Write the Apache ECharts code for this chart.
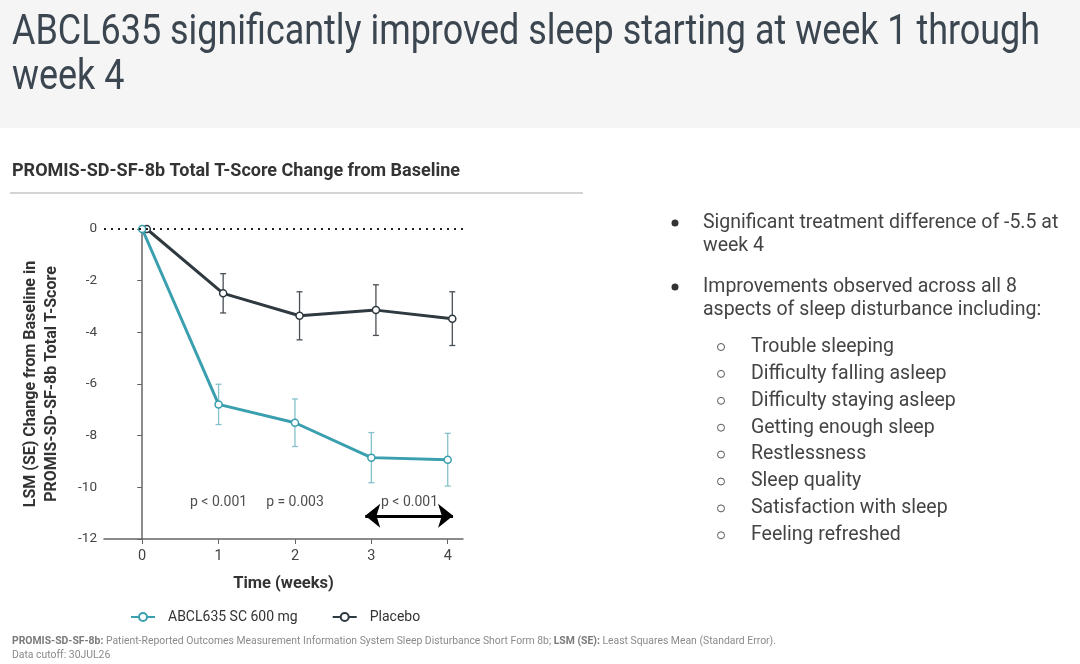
<!DOCTYPE html>
<html>
<head>
<meta charset="utf-8">
<style>
  html, body { margin: 0; padding: 0; background: #fff; }
  #main { width: 1080px; height: 664px; }
</style>
<script src="https://cdn.jsdelivr.net/npm/echarts@6/dist/echarts.min.js"></script>
</head>
<body>
<div id="main"></div>
<script>
// data
var weeks = [0, 1, 2, 3, 4];
var abclMean = [0, -6.79, -7.50, -8.85, -8.93];
var abclSE = [0, 0.78, 0.92, 0.97, 1.02];
var placeboMean = [0, -2.49, -3.36, -3.14, -3.47];
var placeboSE = [0, 0.76, 0.93, 0.98, 1.04];
var yTicks = [0, -2, -4, -6, -8, -10, -12];
var pLabels = ["p < 0.001", "p = 0.003", "p < 0.001"];
var pWeeks = [1, 2, 3.5];
var seriesNames = ["ABCL635 SC 600 mg", "Placebo"];

var titleLines = ["ABCL635 significantly improved sleep starting at week 1 through", "week 4"];
var bullets = [
  ["Significant treatment difference of -5.5 at", "week 4"],
  ["Improvements observed across all 8", "aspects of sleep disturbance including:"]
];
var subBullets = ["Trouble sleeping", "Difficulty falling asleep", "Difficulty staying asleep",
  "Getting enough sleep", "Restlessness", "Sleep quality", "Satisfaction with sleep", "Feeling refreshed"];

var teal = "#3a9fae";
var tealLight = "#86c2cb";
var dark = "#2f3940";
var placeboDodge = 0.06; // placebo points drawn slightly right of the tick

var myChart = echarts.init(document.getElementById("main"));

function pts(mean, dx) {
  return weeks.map(function (w, i) { return [w + dx, mean[i]]; });
}
function bars(mean, se, dx) {
  return weeks.map(function (w, i) { return [w + dx, mean[i] - se[i], mean[i] + se[i]]; })
    .filter(function (d, i) { return se[i] > 0; });
}
function errorBar(color) {
  return function (params, api) {
    var lo = api.coord([api.value(0), api.value(1)]);
    var hi = api.coord([api.value(0), api.value(2)]);
    var w = 3;
    var st = { stroke: color, lineWidth: 1.3 };
    return {
      type: "group",
      children: [
        { type: "line", shape: { x1: lo[0], y1: lo[1], x2: hi[0], y2: hi[1] }, style: st },
        { type: "line", shape: { x1: lo[0] - w, y1: lo[1], x2: lo[0] + w, y2: lo[1] }, style: st },
        { type: "line", shape: { x1: hi[0] - w, y1: hi[1], x2: hi[0] + w, y2: hi[1] }, style: st }
      ]
    };
  };
}

// condensed title: squeeze Roboto to the width of the original headline
var titleFont = "42px Roboto, sans-serif";
var ctx = document.createElement("canvas").getContext("2d");
ctx.font = titleFont;
var titleScale = 1028 / ctx.measureText(titleLines[0]).width;

var graphics = [
  { type: "rect", shape: { x: 0, y: 0, width: 1080, height: 128 }, style: { fill: "#f5f5f5" }, z: -1 }
];
titleLines.forEach(function (t, i) {
  graphics.push({ type: "text", x: 12, y: 33 + i * 45, scaleX: titleScale,
    style: { x: 0, y: 0, text: t, font: titleFont, fill: "#3b4650", textVerticalAlign: "middle" } });
});
graphics.push(
  { type: "text", style: { x: 12, y: 171, text: "PROMIS-SD-SF-8b Total T-Score Change from Baseline",
      font: "bold 18px Roboto, sans-serif", fill: "#333", textVerticalAlign: "middle" } },
  { type: "line", shape: { x1: 10, y1: 193, x2: 583, y2: 193 }, style: { stroke: "#aaa", lineWidth: 1.2 } },
  { type: "text", style: { x: 12, y: 641, text: "{b|PROMIS-SD-SF-8b:} Patient-Reported Outcomes Measurement Information System Sleep Disturbance Short Form 8b; {b|LSM (SE):} Least Squares Mean (Standard Error).",
      font: "10.4px Roboto, sans-serif", fill: "#8a8a8a", textVerticalAlign: "middle",
      rich: { b: { fontWeight: "bold", fontSize: 10.4, fontFamily: "Roboto", fill: "#7a7a7a" } } } },
  { type: "text", style: { x: 12, y: 655, text: "Data cutoff: 30JUL26",
      font: "10.4px Roboto, sans-serif", fill: "#8a8a8a", textVerticalAlign: "middle" } }
);
// text blocks on the right
var by = [223, 287];
bullets.forEach(function (lines, i) {
  graphics.push({ type: "circle", shape: { cx: 675, cy: by[i], r: 3.5 }, style: { fill: "#333" } });
  lines.forEach(function (t, j) {
    graphics.push({ type: "text", style: { x: 703, y: by[i] + j * 23.5, text: t,
      font: "19.5px Roboto, sans-serif", fill: "#444", textVerticalAlign: "middle" } });
  });
});
subBullets.forEach(function (t, i) {
  var y = 347 + i * 26.9;
  graphics.push({ type: "circle", shape: { cx: 721, cy: y, r: 3.5 }, style: { fill: "none", stroke: "#555", lineWidth: 1 } });
  graphics.push({ type: "text", style: { x: 751, y: y, text: t,
    font: "19.5px Roboto, sans-serif", fill: "#444", textVerticalAlign: "middle" } });
});

var option = {
  animation: false,
  textStyle: { fontFamily: "Roboto, sans-serif" },
  graphic: graphics,
  grid: { left: 104, right: 617, top: 229, bottom: 125 },
  legend: {
    left: 125, top: 605,
    itemWidth: 24, itemHeight: 10, itemGap: 34,
    data: seriesNames,
    textStyle: { fontSize: 14, color: "#333", padding: [0, 0, 0, 8] }
  },
  xAxis: {
    type: "value", min: -0.5, max: 4.2,
    name: "Time (weeks)", nameLocation: "middle", nameGap: 36,
    nameTextStyle: { fontSize: 16.5, fontWeight: "bold", color: "#333" },
    axisLine: { onZero: false, lineStyle: { color: "#666", width: 1.5 } },
    axisTick: { customValues: weeks, length: 5, lineStyle: { color: "#666" } },
    axisLabel: { customValues: weeks, fontSize: 14.5, color: "#444", margin: 10 },
    splitLine: { show: false }
  },
  yAxis: {
    type: "value", min: -12, max: 0, interval: 2,
    name: "LSM (SE) Change from Baseline in\nPROMIS-SD-SF-8b Total T-Score",
    nameLocation: "middle", nameGap: 42,
    nameTextStyle: { fontSize: 16, fontWeight: "bold", color: "#333", lineHeight: 21 },
    axisLine: { show: true, lineStyle: { color: "#666", width: 1.5 } },
    axisTick: { show: true, length: 5, lineStyle: { color: "#666" } },
    axisLabel: { fontSize: 13.5, color: "#444", margin: 7,
      formatter: function (v) { return yTicks.indexOf(v) >= 0 ? String(v) : ""; } },
    splitLine: { show: false }
  },
  series: [
    {
      type: "custom", renderItem: errorBar(tealLight), data: bars(abclMean, abclSE, 0),
      encode: { x: 0, y: [1, 2] }, z: 1, silent: true
    },
    {
      type: "custom", renderItem: errorBar("#4a4f54"), data: bars(placeboMean, placeboSE, placeboDodge),
      encode: { x: 0, y: [1, 2] }, z: 1, silent: true
    },
    {
      name: seriesNames[1], type: "line", data: pts(placeboMean, placeboDodge), z: 3,
      symbol: "circle", symbolSize: 7,
      lineStyle: { color: dark, width: 3 },
      itemStyle: { color: "#fff", borderColor: dark, borderWidth: 1.5 },
      markLine: {
        silent: true, symbol: "none", label: { show: false },
        lineStyle: { color: "#222", type: [2, 5], width: 2.2 },
        data: [{ yAxis: 0 }]
      }
    },
    {
      name: seriesNames[0], type: "line", data: pts(abclMean, 0), z: 4,
      symbol: "circle", symbolSize: 7,
      lineStyle: { color: teal, width: 3 },
      itemStyle: { color: "#fff", borderColor: teal, borderWidth: 1.5 },
      markLine: {
        silent: true, symbol: ["arrow", "arrow"], symbolSize: [18, 15], label: { show: false },
        lineStyle: { color: "#000", type: "solid", width: 3 },
        data: [[{ coord: [2.92, -11.1] }, { coord: [4.07, -11.1] }]]
      }
    },
    {
      type: "scatter", symbolSize: 0, silent: true, z: 5,
      data: pWeeks.map(function (w, i) { return { value: [w, -10.6], name: pLabels[i] }; }),
      label: { show: true, position: "inside", formatter: "{b}", fontSize: 14, color: "#222" }
    }
  ]
};

if (option && typeof option === "object") {
  myChart.setOption(option);
}
</script>
</body>
</html>
